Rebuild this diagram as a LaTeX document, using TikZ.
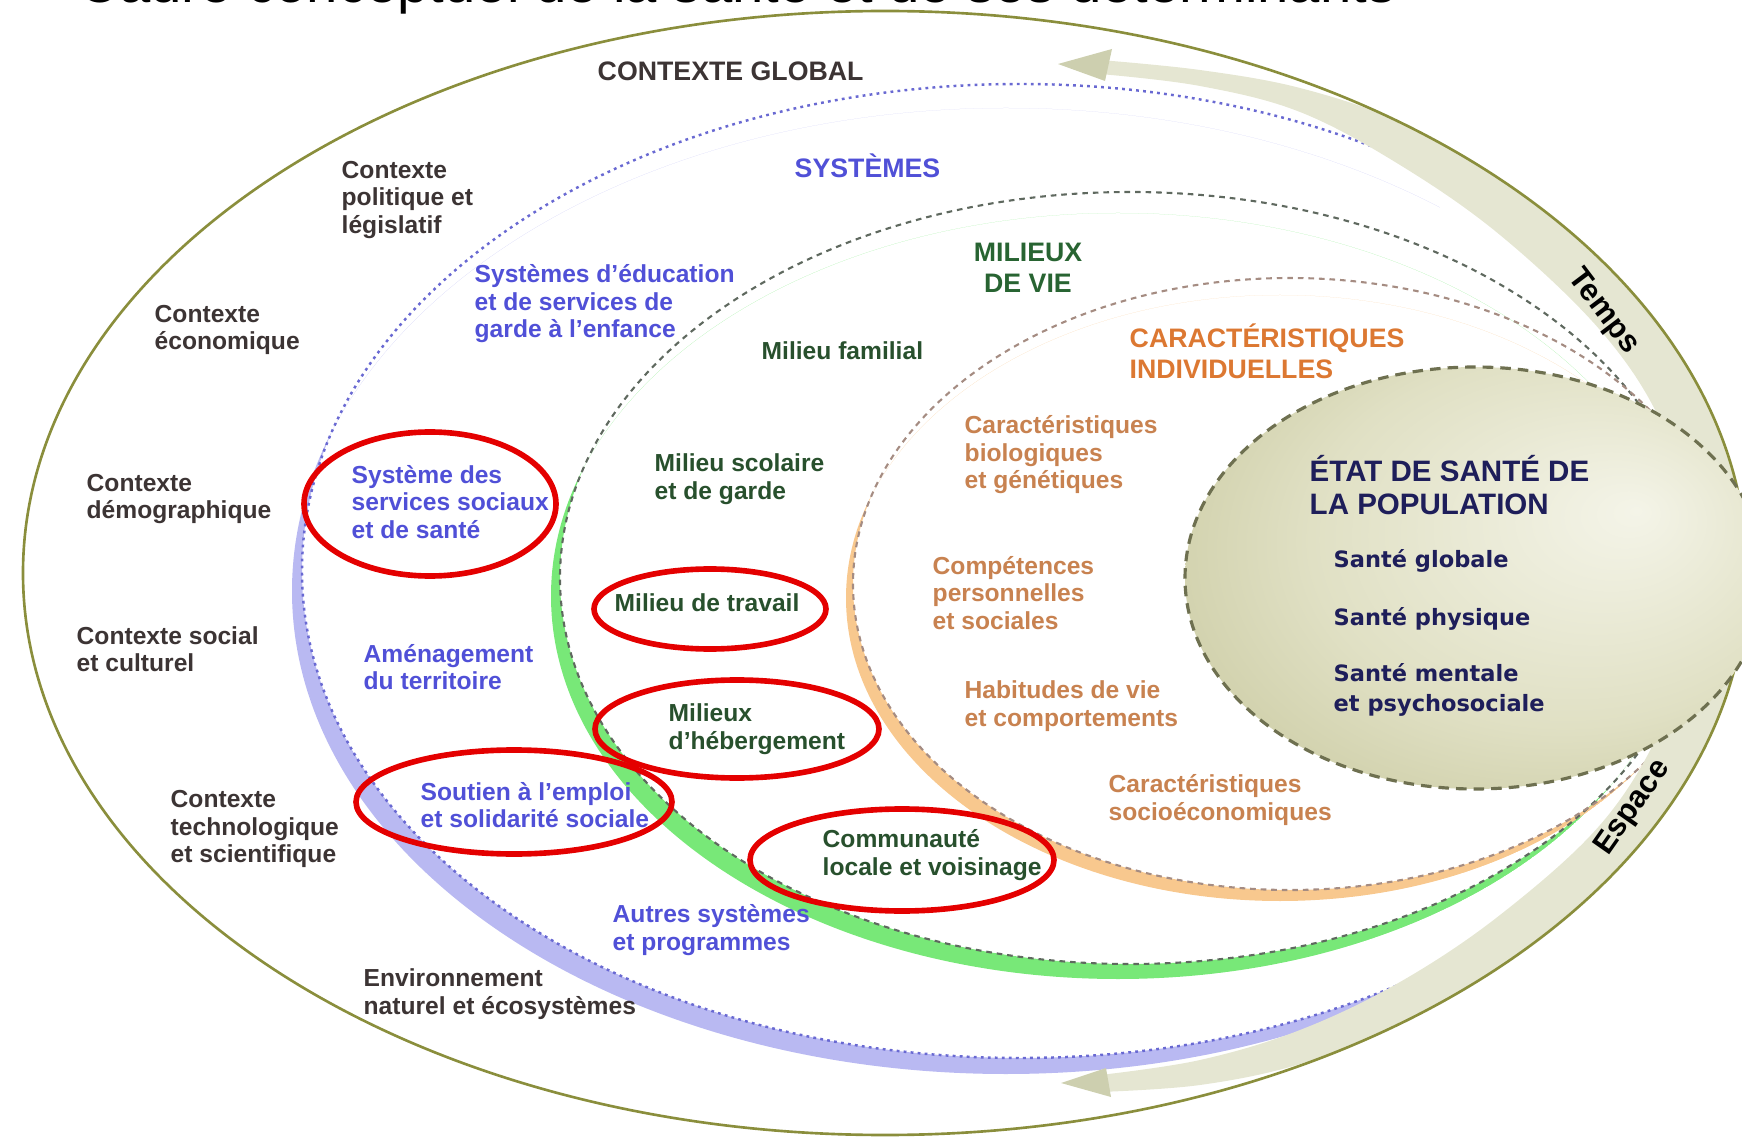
\documentclass[tikz,border=0pt]{standalone}
\usepackage{fontspec}
\setmainfont{Liberation Sans}
\newfontfamily\etatfont{DejaVu Sans}
\usepackage{tikz}
\usetikzlibrary{positioning}
\usepackage{xcolor}

\definecolor{ctxcol}{RGB}{60,52,52}
\definecolor{syscol}{RGB}{80,80,215}
\definecolor{milcol}{RGB}{40,80,45}
\definecolor{milhead}{RGB}{40,100,50}
\definecolor{carhead}{RGB}{220,120,50}
\definecolor{caritem}{RGB}{200,130,80}
\definecolor{etatcol}{RGB}{30,30,90}
\definecolor{outercol}{RGB}{138,142,60}
\definecolor{bandcol}{RGB}{229,230,210}
\definecolor{arrowcol}{RGB}{205,207,175}
\definecolor{syslight}{RGB}{185,185,242}
\definecolor{millight}{RGB}{120,232,120}
\definecolor{carlight}{RGB}{248,200,142}
\definecolor{etatlight}{RGB}{244,244,232}
\definecolor{etatmid}{RGB}{224,224,196}
\definecolor{etatdark}{RGB}{200,200,158}
\definecolor{ringred}{RGB}{228,0,0}

\pgfdeclareradialshading{etatshade}{\pgfpoint{14bp}{8bp}}{color(0bp)=(etatlight); color(22bp)=(etatmid); color(38bp)=(etatdark); color(50bp)=(etatdark)}

\tikzset{
  lbl/.style={anchor=west, align=left, inner sep=0pt, font=\bfseries\fontsize{7}{7.8}\selectfont},
  ctx/.style={lbl, text=ctxcol},
  sys/.style={lbl, text=syscol},
  mil/.style={lbl, text=milcol},
  car/.style={lbl, text=caritem},
  heading/.style={anchor=west, align=left, inner sep=0pt, font=\bfseries\fontsize{7.6}{8.8}\selectfont},
  sante/.style={anchor=west, align=left, inner sep=0pt, text=etatcol, font=\etatfont\bfseries\fontsize{6.4}{8.5}\selectfont},
  dimlabel/.style={inner sep=0pt, text=black, font=\bfseries\fontsize{8.8}{9}\selectfont},
  sysline/.style={draw={rgb,255:red,105;green,105;blue,210}, line width=0.7pt, dash pattern=on 0.8pt off 1.2pt},
  milline/.style={draw={rgb,255:red,95;green,105;blue,95}, line width=0.6pt, dash pattern=on 1.6pt off 1.4pt},
  carline/.style={draw={rgb,255:red,165;green,140;blue,130}, line width=0.6pt, dash pattern=on 1.6pt off 1.4pt},
  ring/.style={draw=ringred, line width=1.6pt}
}

\begin{document}
\begin{tikzpicture}[x=0.01cm, y=-0.01cm]
  \useasboundingbox (0,0) rectangle (1742,1140);
  \node[anchor=base west, inner sep=0pt, font=\fontsize{16}{16}\selectfont] (titre) at (78,3) {Cadre conceptuel de la santé et de ses déterminants};

  % bands and lines of the nested levels
  \begin{scope}
    \clip (885,573) ellipse [x radius=862, y radius=562];
    \begin{scope}
      \clip (0,0) rectangle (1440,1140);
      \clip (1006,591) ellipse [x radius=714, y radius=483];
      \fill[syslight, even odd rule] (1006,591) ellipse [x radius=714, y radius=483]
        (1020,571) ellipse [x radius=718, y radius=487];
    \end{scope}
    \begin{scope}
      \clip (1118,596) ellipse [x radius=567, y radius=383];
      \fill[millight, even odd rule] (1118,596) ellipse [x radius=567, y radius=383]
        (1130,578) ellipse [x radius=570, y radius=386];
    \end{scope}
    \begin{scope}
      \clip (1280,598) ellipse [x radius=434, y radius=303];
      \fill[carlight, even odd rule] (1280,598) ellipse [x radius=434, y radius=303]
        (1290,584) ellipse [x radius=437, y radius=306];
    \end{scope}
    \draw[sysline] (1020,571) ellipse [x radius=718, y radius=487];
    \draw[milline] (1130,578) ellipse [x radius=570, y radius=386];
    \draw[carline] (1290,584) ellipse [x radius=437, y radius=306];
  \end{scope}

  % temps / espace
  \fill[bandcol] plot[smooth, tension=0.6] coordinates {(1100,60) (1200,70) (1300,88) (1400,122) (1500,179) (1600,259) (1680,356) (1730,462) (1747,573) (1730,684) (1680,790) (1600,887) (1500,967) (1400,1024) (1300,1064) (1200,1085) (1100,1092)}
    -- plot[smooth, tension=0.6] coordinates {(1100,1075) (1200,1060) (1300,1030) (1400,982) (1500,915) (1600,825) (1660,730) (1690,630) (1690,520) (1660,420) (1600,330) (1500,235) (1400,165) (1300,112) (1200,86) (1100,74)} -- cycle;
  \fill[arrowcol] (1058,64) -- (1112,49) -- (1105,81) -- cycle;
  \fill[arrowcol] (1061,1083) -- (1106,1068) -- (1111,1097) -- cycle;

  \draw[outercol, line width=0.75pt] (885,573) ellipse [x radius=862, y radius=562];

  \shade[shading=etatshade] (1475,578) ellipse [x radius=290, y radius=211];
  \draw[draw={rgb,255:red,110;green,112;blue,80}, line width=0.9pt, dash pattern=on 3pt off 2pt] (1475,578) ellipse [x radius=290, y radius=211];

  \node[dimlabel, rotate=-53] (temps) at (1603,312) {Temps};
  \node[dimlabel, rotate=55] (espace) at (1633,808) {Espace};

  % contexte global
  \node[heading, text=ctxcol] (global) at (597,71) {CONTEXTE GLOBAL};
  \node[ctx] (polit) at (341,200) {Contexte\\politique et\\législatif};
  \node[ctx] (econ) at (154,330) {Contexte\\économique};
  \node[ctx] (demo) at (86,499) {Contexte\\démographique};
  \node[ctx] (social) at (76,649) {Contexte social\\et culturel};
  \node[ctx] (techno) at (170,829) {Contexte\\technologique\\et scientifique};
  \node[ctx] (envir) at (363,994) {Environnement\\naturel et écosystèmes};

  % systemes
  \node[heading, text=syscol] (systemes) at (794,166) {SYSTÈMES};
  \node[sys] (educ) at (474,304) {Systèmes d’éducation\\et de services de\\garde à l’enfance};
  \node[sys] (sss) at (351,502) {Système des\\services sociaux\\et de santé};
  \node[sys] (amenag) at (363,667) {Aménagement\\du territoire};
  \node[sys] (soutien) at (420,805) {Soutien à l’emploi\\et solidarité sociale};
  \node[sys] (autres) at (612,930) {Autres systèmes\\et programmes};

  % milieux de vie
  \node[heading, anchor=center, align=center, text=milhead] (milieux) at (1028,268) {MILIEUX\\DE VIE};
  \node[mil] (familial) at (761,351) {Milieu familial};
  \node[mil] (scolaire) at (654,479) {Milieu scolaire\\et de garde};
  \node[mil] (travail) at (614,603) {Milieu de travail};
  \node[mil] (heberg) at (668,729) {Milieux\\d’hébergement};
  \node[mil] (commun) at (822,855) {Communauté\\locale et voisinage};

  % caracteristiques individuelles
  \node[heading, text=carhead] (caract) at (1129,351) {CARACTÉRISTIQUES\\INDIVIDUELLES};
  \node[car] (bio) at (964,455) {Caractéristiques\\biologiques\\et génétiques};
  \node[car] (compet) at (932,593) {Compétences\\personnelles\\et sociales};
  \node[car] (habit) at (964,706) {Habitudes de vie\\et comportements};
  \node[car] (socio) at (1108,800) {Caractéristiques\\socioéconomiques};

  % etat de sante
  \node[anchor=west, align=left, inner sep=0pt, text=etatcol, font=\bfseries\fontsize{8.4}{9.4}\selectfont] (etat) at (1309,485) {ÉTAT DE SANTÉ DE\\LA POPULATION};
  \node[sante] (globale) at (1333,561) {Santé globale};
  \node[sante] (physique) at (1333,619) {Santé physique};
  \node[sante] (mentale) at (1333,690) {Santé mentale\\et psychosociale};

  % cercles rouges
  \draw[ring] (430,504) ellipse [x radius=126, y radius=72];
  \draw[ring] (710,609) ellipse [x radius=116, y radius=40];
  \draw[ring] (737,729) ellipse [x radius=142, y radius=49];
  \draw[ring] (514,802) ellipse [x radius=158, y radius=52];
  \draw[ring] (902,860) ellipse [x radius=152, y radius=51];
\end{tikzpicture}
\end{document}
